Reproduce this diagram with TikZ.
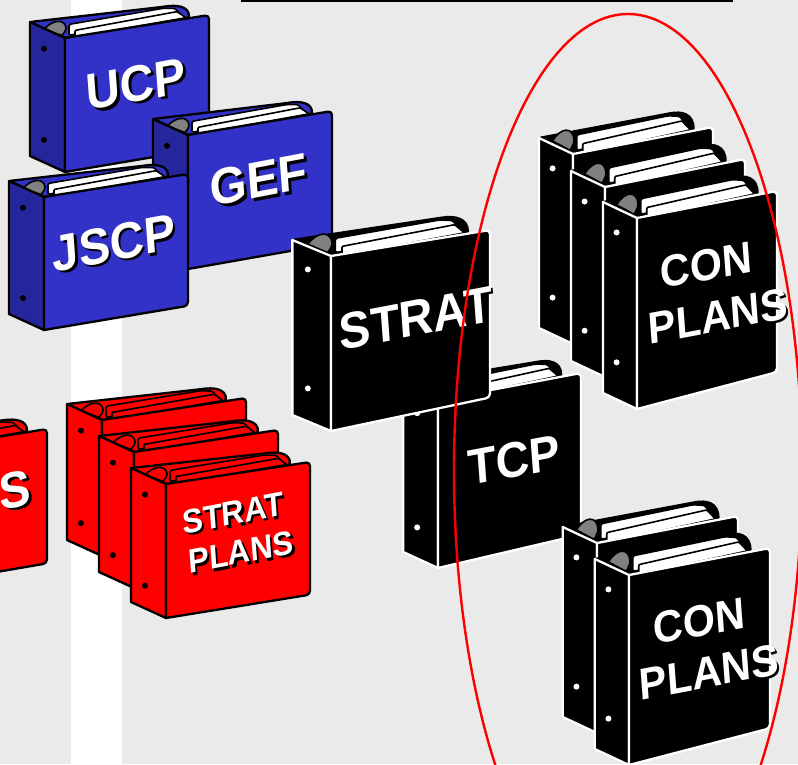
\documentclass[tikz,border=0pt]{standalone}
\usepackage{fontspec}
\setmainfont{Liberation Sans}
\definecolor{bgray}{HTML}{EAEAEA}
\definecolor{bblue}{HTML}{3232C8}
\definecolor{bdblue}{HTML}{26269C}
\definecolor{bred}{HTML}{FF0000}
\definecolor{bring}{HTML}{808080}
\def\schemeblue{\def\bfil{bblue}\def\bspn{bdblue}\def\blin{black}\def\bpag{white}\def\brng{bring}\def\bhol{black}}
\def\schemered{\def\bfil{bred}\def\bspn{bred}\def\blin{black}\def\bpag{bred}\def\brng{bred}\def\bhol{black}}
\def\schemeblack{\def\bfil{black}\def\bspn{black}\def\blin{white}\def\bpag{white}\def\brng{bring}\def\bhol{white}}
% #1 #2 front top-left; #3 #4 front top-right; #5 height; #6 scheme
\newcommand{\binder}[6]{%
  \csname scheme#6\endcsname
  \pgfmathsetmacro{\bsx}{(#3-#1)/144}%
  \pgfmathsetmacro{\bsy}{(#4-#2)/144}%
  \pgfmathsetmacro{\bk}{#5/134}%
  \pgfmathsetmacro{\bv}{-16+35*\bsy}%
  \pgfmathsetmacro{\bvk}{\bv/\bk}%
  \pgfmathsetmacro{\bvb}{\bv+#5}%
  \pgfmathsetmacro{\bbr}{#5-(#5-125)*0.15}%
  \pgfmathsetmacro{\bhu}{0.055*#5}%
  \pgfmathsetmacro{\bhl}{0.735*#5}%
  \begin{scope}[shift={(#1,#2)},x={(\bsx pt,-\bsy pt)},y={(0pt,-\bk pt)}]
    \draw[bline,draw=black,fill=\bfil,rounded corners=2pt]
      (-35,\bvk) -- (98,-15.5) .. controls (112,-15.5) and (124,-12) .. (124,0) -- (0,0) -- cycle;
    \draw[pline,fill=\bpag,rounded corners=1.5pt] (4,-13) -- (98,-14) -- (110,-12) -- (116,-5) -- (4,-2) -- cycle;
    \draw[pline,fill=\bpag,rounded corners=1pt] (10,-6) -- (112,-8.5) -- (121,-1) -- (10,1) -- cycle;
    \draw[pline,fill=\brng]
      (-21,-12) .. controls (-12,-21) and (0,-19) .. (1,-10) .. controls (1,-6) and (-2,-5) .. (-3,-3) -- cycle;
  \end{scope}
  \begin{scope}[shift={(#1,#2)},x={(\bsx pt,-\bsy pt)},y={(0pt,-1pt)}]
    \draw[bline,draw=\blin,fill=\bspn] (-35,\bv) -- (0,0) -- (0,#5) -- (-35,\bvb) -- cycle;
    \draw[bline,draw=\blin,fill=\bfil] (0,0) {[rounded corners=4pt] -- (144,0) -- (144,\bbr)} -- (0,#5) -- cycle;
    \fill[\bhol] (-21,\bhu) circle[radius=3pt] (-21,\bhl) circle[radius=3pt];
  \end{scope}}
% #1 name, #2 x, #3 y, #4 size, #5 text
\newcommand{\btext}[5]{%
  \node[btxt,black,font={\fontsize{#4}{#4}\selectfont\bfseries}] at (#2+2.5,#3+2.5) {#5};
  \node[btxt,white,font={\fontsize{#4}{#4}\selectfont\bfseries}] (#1) at (#2,#3) {#5};}
\tikzset{
  bline/.style={line width=2.3pt,line join=round},
  pline/.style={line width=1.6pt,draw=black,line join=round},
  btxt/.style={cm={1,0.19,-0.08,1.08,(0,0)},inner sep=0pt,anchor=center},
  planring/.style={draw=bred,line width=2.4pt}
}
\begin{document}
\begin{tikzpicture}[x=1pt,y=-1pt]
\useasboundingbox (0,0) rectangle (798,764);
\clip (0,0) rectangle (798,764);
\fill[bgray] (0,0) rectangle (798,764);
\fill[white] (71,0) rectangle (122,764);
\fill[black] (241,0) rectangle (733,2);
% blue
\binder{65}{38}{209}{15}{134}{blue}
\btext{ucp}{136}{84}{47}{UCP}
\binder{188}{135}{332}{111}{134}{blue}
\btext{gef}{259}{180}{47}{GEF}
\binder{44}{197}{188}{174}{133}{blue}
\btext{jscp}{114}{243}{47}{JSCP}
% red
\binder{-97}{452}{47}{429}{136}{red}
\btext{lefts}{15}{490}{47}{S}
\binder{102}{420}{246}{398}{136}{red}
\binder{134}{452}{278}{430}{136}{red}
\binder{166}{484}{310}{462}{134}{red}
\btext{stratp}{233}{513}{31}{STRAT}
\btext{planp}{241}{552}{31}{PLANS}
% black
\binder{438}{400}{581}{373}{168}{black}
\btext{tcp}{514}{460}{46}{TCP}
\binder{331}{256}{490}{230}{175}{black}
\btext{strat}{416}{318}{47}{STRAT}
\binder{573}{154}{713}{127}{190}{black}
\binder{605}{187}{745}{159}{190}{black}
\binder{637}{218}{777}{191}{191}{black}
\btext{cona}{706}{265}{41}{CON}
\btext{plana}{718}{316}{41}{PLANS}
\binder{597}{543}{738}{516}{190}{black}
\binder{629}{575}{770}{548}{190}{black}
\btext{conb}{699}{621}{41}{CON}
\btext{planb}{709}{672}{41}{PLANS}
% ellipse
\draw[planring] (628,470) ellipse[x radius=174pt,y radius=456pt];
\end{tikzpicture}
\end{document}
